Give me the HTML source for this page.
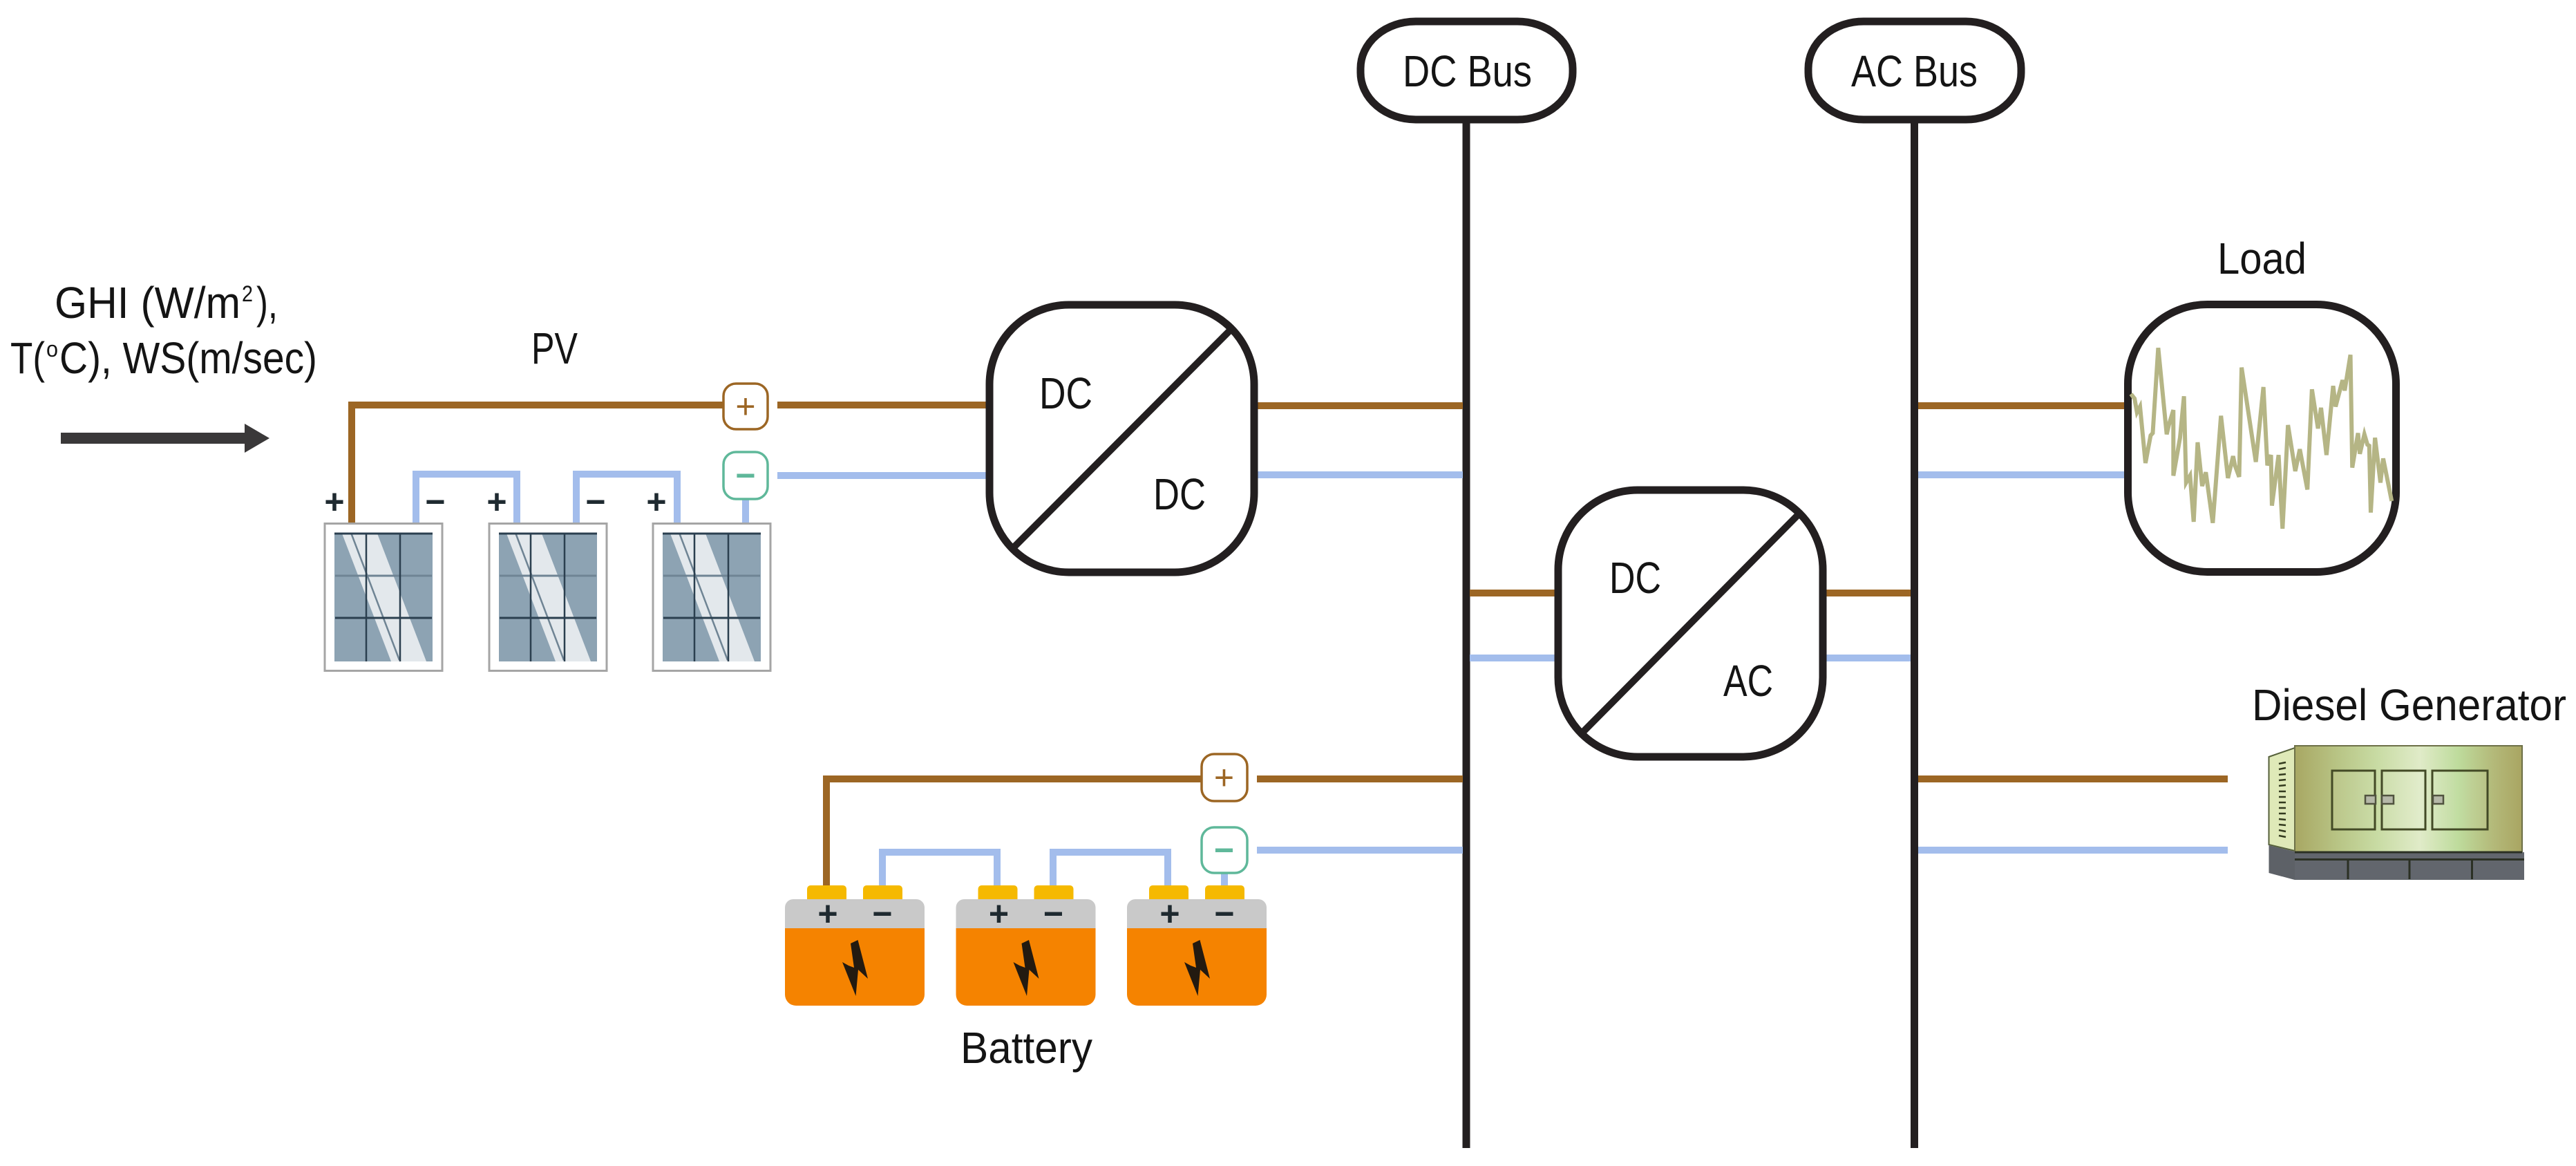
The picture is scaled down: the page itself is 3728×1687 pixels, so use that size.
<!DOCTYPE html>
<html><head><meta charset="utf-8"><style>
html,body{margin:0;padding:0;background:#fff}
svg{display:block}
text{font-family:"Liberation Sans",sans-serif;fill:#141414}
.t{font-size:64px}
.s{font-size:32px}
.b{fill:none;stroke:#9c6624;stroke-width:10}
.l{fill:none;stroke:#a3bdec;stroke-width:10}
.k{fill:#fff;stroke:#231f20;stroke-width:11}
.m{font-size:50px;font-weight:bold;text-anchor:middle;fill:#1f2a30}
</style></head><body>
<svg xmlns="http://www.w3.org/2000/svg" width="3728" height="1687" viewBox="0 0 3728 1687">
<defs>
<linearGradient id="g" x1="0" x2="1" y1="0" y2="0">
<stop offset="0" stop-color="#a8a763"/><stop offset=".2" stop-color="#b9c687"/><stop offset=".36" stop-color="#c8dba3"/><stop offset=".55" stop-color="#e0ebc8"/><stop offset=".72" stop-color="#bedb9c"/><stop offset=".88" stop-color="#b3b878"/><stop offset="1" stop-color="#a9a562"/>
</linearGradient>
<g id="panel">
<rect x="470" y="757.5" width="170" height="213" fill="#fff" stroke="#a5a5a5" stroke-width="3"/>
<rect x="484" y="771" width="142" height="186" fill="#8da3b3"/>
<polygon points="495,772 546,772 617,957 566,957" fill="#e3e8ec"/>
<g fill="none" stroke="#2b3f4f">
<line x1="508" y1="771" x2="578" y2="955" stroke-width="2.5" stroke="#6f8494"/>
<line x1="484" y1="772" x2="626" y2="772" stroke-width="3"/>
<line x1="485" y1="833" x2="625" y2="833" stroke-width="3" stroke="#6f8494"/>
<line x1="485" y1="894" x2="625" y2="894" stroke-width="3"/>
<line x1="530" y1="771" x2="530" y2="957" stroke-width="2.5"/>
<line x1="579" y1="771" x2="579" y2="957" stroke-width="2.5"/>
</g>
</g>
<g id="bat">
<rect x="1168" y="1281" width="57" height="26" rx="5" fill="#f5b900"/>
<rect x="1249" y="1281" width="57" height="26" rx="5" fill="#f5b900"/>
<path d="M1136 1343 V1313 a12 12 0 0 1 12 -12 H1326 a12 12 0 0 1 12 12 V1343Z" fill="#c9c9c9"/>
<path d="M1136 1343 H1338 V1439 a16 16 0 0 1 -16 16 H1152 a16 16 0 0 1 -16 -16Z" fill="#f58300"/>
<polygon points="1231,1365 1241.5,1360 1256,1416 1242,1403 1238.5,1441 1219,1392 1228,1397 1236,1400" fill="#231a10"/>
</g>
</defs>
<rect width="3728" height="1687" fill="#fff"/>

<!-- buses -->
<line x1="2122" y1="170" x2="2122" y2="1661" stroke="#231f20" stroke-width="11"/>
<line x1="2770.5" y1="170" x2="2770.5" y2="1661" stroke="#231f20" stroke-width="11"/>
<rect class="k" x="1969" y="31" width="307" height="142" rx="80" ry="68"/>
<rect class="k" x="2617" y="31" width="308" height="142" rx="80" ry="68"/>
<text class="t" x="2030" y="125" textLength="187" lengthAdjust="spacingAndGlyphs">DC Bus</text>
<text class="t" x="2679" y="125" textLength="183" lengthAdjust="spacingAndGlyphs">AC Bus</text>

<!-- PV wiring -->
<path class="b" d="M509 757 V586 H1046"/>
<path class="b" d="M1125 586 H1427 M1820 587 H2117 M2776 587 H3074 M2127 858 H2250 M2643 858 H2765"/>
<path class="l" d="M1125 688 H1427 M1820 687 H2117 M2776 687 H3074 M2127 952 H2250 M2643 952 H2765"/>
<path class="l" d="M602 757 V686 H748 V757 M834 757 V686 H980 V757 M1079 722 V757"/>
<use href="#panel"/><use href="#panel" x="238"/><use href="#panel" x="475"/>
<text class="m" x="484" y="743">+</text>
<text class="m" x="630" y="743">−</text>
<text class="m" x="719" y="743">+</text>
<text class="m" x="862" y="743">−</text>
<text class="m" x="950" y="743">+</text>
<rect x="1047" y="555" width="64" height="66" rx="18" fill="#fff" stroke="#9c6624" stroke-width="3.5"/>
<text x="1079" y="605" style="font-size:50px;text-anchor:middle;fill:#9c6624">+</text>
<rect x="1047" y="654" width="64" height="68" rx="18" fill="#fff" stroke="#5fb89a" stroke-width="3.5"/>
<text x="1079" y="705" style="font-size:50px;font-weight:bold;text-anchor:middle;fill:#5fb89a">−</text>

<!-- left labels -->
<text class="t" x="79" y="460" textLength="269" lengthAdjust="spacingAndGlyphs">GHI (W/m</text>
<text class="s" x="350" y="436" textLength="16" lengthAdjust="spacingAndGlyphs">2</text>
<text class="t" x="371" y="460" textLength="31" lengthAdjust="spacingAndGlyphs">),</text>
<text class="t" x="15" y="540" textLength="50" lengthAdjust="spacingAndGlyphs">T(</text>
<text class="s" x="67" y="516" textLength="17" lengthAdjust="spacingAndGlyphs">o</text>
<text class="t" x="86" y="540" textLength="373" lengthAdjust="spacingAndGlyphs">C), WS(m/sec)</text>
<text class="t" x="769" y="526" textLength="67" lengthAdjust="spacingAndGlyphs">PV</text>
<polygon points="88,626 354,626 354,613 390,634 354,655 354,642 88,642" fill="#3a3839"/>

<!-- converters -->
<rect class="k" x="1432" y="441" width="383" height="387" rx="115"/>
<line x1="1467" y1="792" x2="1781" y2="477" stroke="#231f20" stroke-width="10"/>
<text class="t" x="1504" y="591" textLength="77" lengthAdjust="spacingAndGlyphs">DC</text>
<text class="t" x="1669" y="737" textLength="76" lengthAdjust="spacingAndGlyphs">DC</text>
<rect class="k" x="2255" y="709" width="383" height="386" rx="115"/>
<line x1="2288" y1="1062" x2="2602" y2="745" stroke="#231f20" stroke-width="10"/>
<text class="t" x="2329" y="858" textLength="75" lengthAdjust="spacingAndGlyphs">DC</text>
<text class="t" x="2494" y="1007" textLength="72" lengthAdjust="spacingAndGlyphs">AC</text>

<!-- battery wiring -->
<path class="b" d="M1196 1281 V1127 H1738 M1819 1127 H2117 M2776 1127 H3224"/>
<path class="l" d="M1819 1230 H2117 M2776 1230 H3224"/>
<path class="l" d="M1277 1281 V1233 H1443 V1281 M1524 1281 V1233 H1690 V1281 M1772 1263 V1281"/>
<use href="#bat"/><use href="#bat" x="247.5"/><use href="#bat" x="495"/>
<text class="m" x="1198" y="1339">+</text><text class="m" x="1277" y="1339">−</text>
<text class="m" x="1445.5" y="1339">+</text><text class="m" x="1524.5" y="1339">−</text>
<text class="m" x="1693" y="1339">+</text><text class="m" x="1772" y="1339">−</text>
<rect x="1739" y="1091" width="66" height="68" rx="18" fill="#fff" stroke="#9c6624" stroke-width="3.5"/>
<text x="1771.5" y="1142" style="font-size:50px;text-anchor:middle;fill:#9c6624">+</text>
<rect x="1739" y="1197" width="66" height="66" rx="18" fill="#fff" stroke="#5fb89a" stroke-width="3.5"/>
<text x="1771.5" y="1247" style="font-size:50px;font-weight:bold;text-anchor:middle;fill:#5fb89a">−</text>
<text class="t" x="1390" y="1538" textLength="191" lengthAdjust="spacingAndGlyphs">Battery</text>

<!-- load -->
<text class="t" x="3209" y="396" textLength="129" lengthAdjust="spacingAndGlyphs">Load</text>
<rect x="3079.5" y="440.5" width="388" height="387" rx="115" fill="#fff" stroke="#231f20" stroke-width="11"/>
<g transform="translate(3040,340) scale(.4388,.3333)">
<polyline vector-effect="non-scaling-stroke" fill="none" stroke="#b5b585" stroke-width="6" stroke-linejoin="miter" points="100,690 112,710 120,770 130,745 148,990 165,870 172,860 190,490 218,865 225,825 240,760 240,1045 262,880 275,700 282,1075 295,1045 307,1245 320,900 335,1090 347,1030 370,1250 397,785 420,1055 437,960 443,1000 457,1050 465,575 512,985 537,660 550,1000 562,955 565,1175 587,955 600,1275 618,825 642,1025 657,930 682,1105 697,670 717,840 727,750 745,955 767,655 775,745 798,630 805,675 824,520 830,1010 849,860 855,950 870,865 880,910 886,915 891,1205 905,880 923,1075 932,970 960,1155"/>
</g>

<!-- generator -->
<text class="t" x="3259" y="1042" textLength="455" lengthAdjust="spacingAndGlyphs">Diesel Generator</text>
<polygon points="3283.5,1095 3321,1082 3321,1231 3283.5,1222" fill="#dfe9b8" stroke="#55603a" stroke-width="2"/>
<path d="M3298 1105 l10 -2 M3298 1113 l10 -2 M3298 1121 l10 -1 M3298 1129 l10 -1 M3298 1137 l10 -1 M3298 1145 l10 0 M3298 1153 h10 M3298 1161 h10 M3298 1169 h10 M3298 1177 h10 M3298 1185 l10 1 M3298 1193 l10 1 M3298 1201 l10 2 M3298 1209 l10 2" stroke="#333a1e" stroke-width="2.5" fill="none"/>
<rect x="3321" y="1079" width="329" height="154" fill="url(#g)" stroke="#6d7048" stroke-width="2"/>
<g fill="#ffffff" fill-opacity=".06" stroke="#434a26" stroke-width="3">
<rect x="3375" y="1115" width="62" height="85"/>
<rect x="3447" y="1115" width="63" height="85"/>
<rect x="3520" y="1115" width="80" height="85"/>
</g>
<g fill="#b5b8a8" stroke="#50533f" stroke-width="2.5">
<rect x="3423" y="1151" width="15" height="12"/>
<rect x="3447" y="1151" width="17" height="12"/>
<rect x="3521" y="1151" width="15" height="12"/>
</g>
<polygon points="3283.5,1223 3321,1232 3321,1273 3283.5,1263" fill="#5d6167"/>
<rect x="3321" y="1233" width="332" height="40" fill="#62666d"/>
<path d="M3321 1233 H3650 M3321 1243.5 H3653 M3398 1243 V1272 M3487 1243 V1272 M3577.5 1243 V1272" stroke="#2b3024" stroke-width="3" fill="none"/>
</svg>
</body></html>
